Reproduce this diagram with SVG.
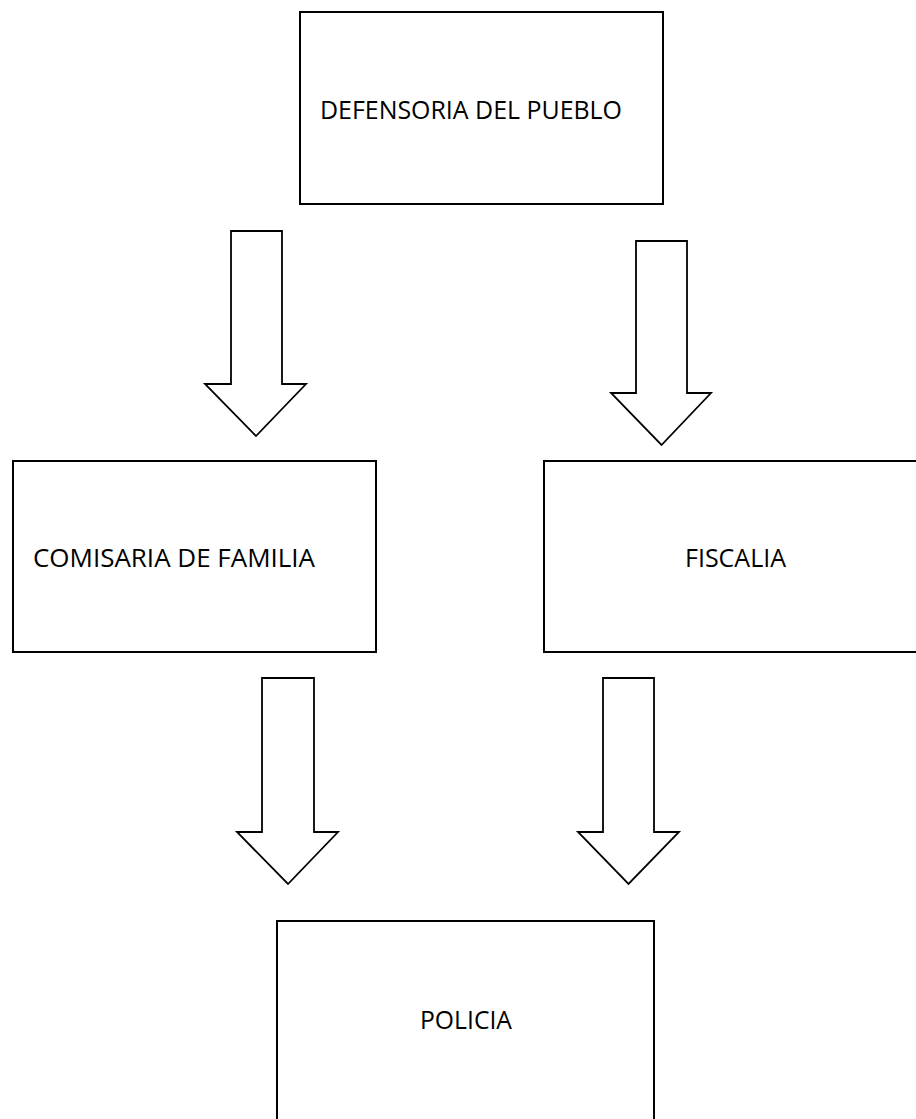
<svg xmlns="http://www.w3.org/2000/svg" width="916" height="1119" viewBox="0 0 916 1119">
<style>
.box{fill:#fff;stroke:#000;stroke-width:2}
.arr{fill:#fff;stroke:#000;stroke-width:1.8;stroke-linejoin:miter}
.lbl{font-family:"Open Sans","Noto Sans","Liberation Sans",sans-serif;font-size:26px;fill:#000}
</style>
<rect width="916" height="1119" fill="#fff"/>
<g id="connectors">
<polygon class="arr" points="231,231 282,231 282,384 306,384 256,436 205,384 231,384"/>
<polygon class="arr" points="636,241 687,241 687,393 711,393 661.5,445 611,393 636,393"/>
<polygon class="arr" points="262,678 314,678 314,832 338,832 288,884 237,832 262,832"/>
<polygon class="arr" points="603,678 654,678 654,832 679,832 628.5,884 578,832 603,832"/>
</g>
<g id="defensoria">
<rect class="box" x="300" y="12" width="363" height="192"/>
<text class="lbl" x="320" y="119" textLength="302" lengthAdjust="spacingAndGlyphs">DEFENSORIA DEL PUEBLO</text>
</g>
<g id="comisaria">
<rect class="box" x="13" y="461" width="363" height="191"/>
<text class="lbl" x="33" y="567" textLength="282" lengthAdjust="spacingAndGlyphs">COMISARIA DE FAMILIA</text>
</g>
<g id="fiscalia">
<rect class="box" x="544" y="461" width="380" height="191"/>
<text class="lbl" x="685" y="567" textLength="101" lengthAdjust="spacingAndGlyphs">FISCALIA</text>
</g>
<g id="policia">
<rect class="box" x="277" y="921" width="377" height="220"/>
<text class="lbl" x="420" y="1029" textLength="92" lengthAdjust="spacingAndGlyphs">POLICIA</text>
</g>
</svg>
